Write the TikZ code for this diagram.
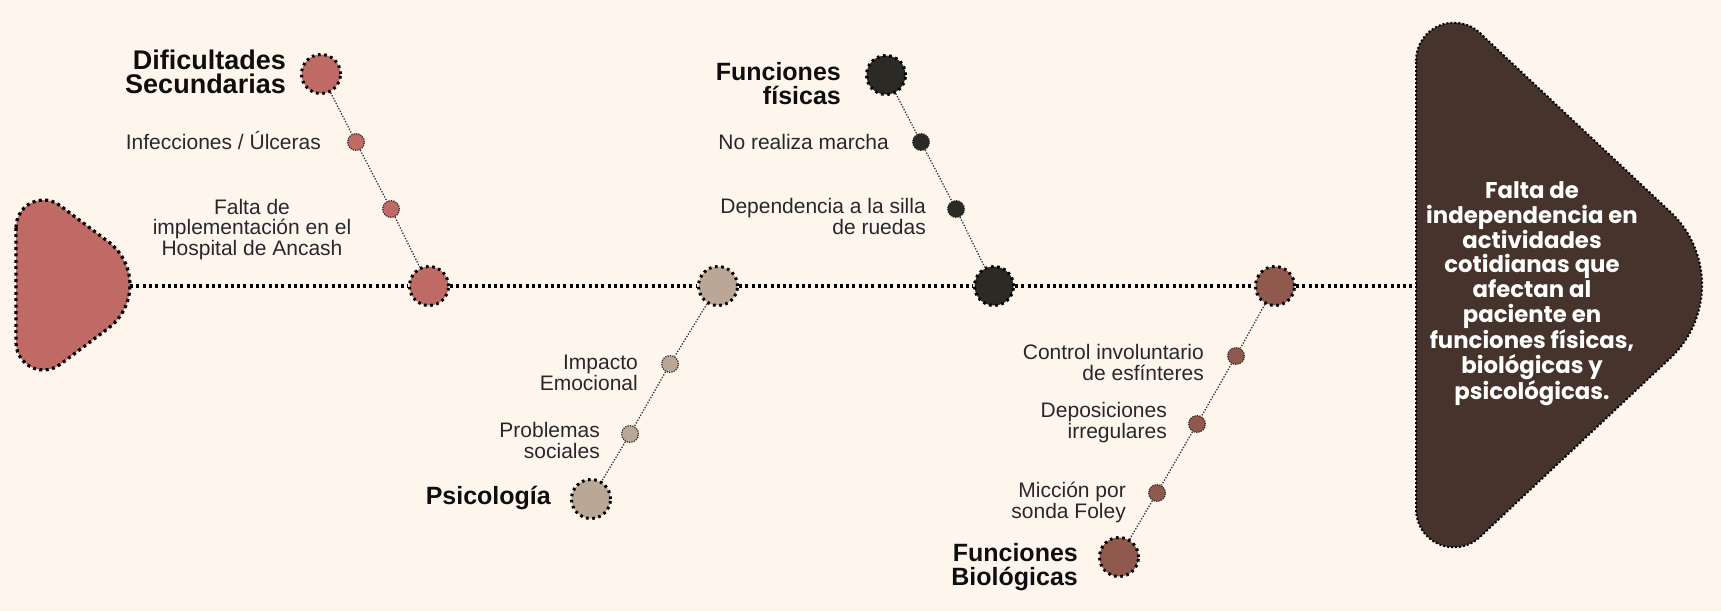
\documentclass[tikz,border=0pt]{standalone}
\usepackage{fontspec}
\setmainfont{Liberation Sans}
\newfontfamily\popfont{Poppins}
\definecolor{bg}{RGB}{254,246,237}
\definecolor{cred}{RGB}{192,106,102}
\definecolor{ctan}{RGB}{187,167,149}
\definecolor{cblk}{RGB}{44,42,37}
\definecolor{cbrn}{RGB}{143,89,77}
\definecolor{cdark}{RGB}{70,51,43}
\definecolor{txt}{RGB}{40,40,44}
\definecolor{hdr}{RGB}{14,14,14}
\begin{document}
\begin{tikzpicture}[x=1pt,y=-1pt,
  mainc/.style={circle, minimum size=39pt, inner sep=0pt, draw=black, line width=3pt, dash pattern=on 2.6pt off 3.6pt},
  subc/.style={circle, minimum size=16.8pt, inner sep=0pt, draw=black!85, line width=1.2pt, dash pattern=on 1.2pt off 1.2pt},
  spine/.style={line width=3.6pt, dash pattern=on 3pt off 3.3pt, draw=black},
  branch/.style={line width=1.3pt, dash pattern=on 1.3pt off 1.6pt, draw=black!80},
  lbl/.style={inner sep=0pt, font=\fontsize{21}{20.5}\selectfont, text=txt, align=right, anchor=base east},
  hd/.style={inner sep=0pt, font=\fontsize{25}{23.5}\selectfont\bfseries, text=hdr, align=right, anchor=base east},
  bigshape/.style={line width=3.2pt, dash pattern=on 3pt off 3.4pt, draw=black}
]
\useasboundingbox[fill=bg] (0,0) rectangle (1721,611);

% left shape (tail)
\draw[bigshape, fill=cred] (16,227.5) arc[start angle=180, end angle=306.87, radius=27.5]
  -- (108.4,241.8) arc[start angle=306.87, end angle=413.13, radius=54]
  -- (60,364.5) arc[start angle=53.13, end angle=180, radius=27.5] -- cycle;
\coordinate (tail) at (130,286);

% right shape (head)
\draw[line width=2pt, dash pattern=on 2pt off 2pt, draw=black, fill=cdark]
  (1416,60.6) arc[start angle=180, end angle=313.2, radius=37.9]
  -- (1670.5,212.1) arc[start angle=313.2, end angle=406.8, radius=100]
  -- (1479.9,537.0) arc[start angle=46.8, end angle=180, radius=37.9] -- cycle;
\coordinate (head) at (1417,286);
\node[inner sep=0pt, text=white, align=center, anchor=base,
  font=\popfont\bfseries\fontsize{22.8}{24.75}\selectfont] (effect) at (1532,399.5)
  {Falta de\\independencia en\\actividades\\cotidianas que\\afectan al\\paciente en\\funciones físicas,\\biológicas y\\psicológicas.};

% main circles on spine
\node[mainc, fill=cred] (c1) at (429,286) {};
\node[mainc, fill=ctan] (c2) at (718,286) {};
\node[mainc, fill=cblk] (c3) at (994,286) {};
\node[mainc, fill=cbrn] (c4) at (1275,286) {};

% branch heads
\node[mainc, fill=cred] (d0) at (321,74) {};
\node[mainc, fill=cblk] (f0) at (886,75) {};
\node[mainc, fill=ctan] (p0) at (591,499) {};
\node[mainc, fill=cbrn] (b0) at (1119,557) {};

% sub circles
\node[subc, fill=cred] (d1) at (356,142) {};
\node[subc, fill=cred] (d2) at (391,209) {};
\node[subc, fill=cblk] (f1) at (921,142) {};
\node[subc, fill=cblk] (f2) at (956,209) {};
\node[subc, fill=ctan] (p1) at (670,364) {};
\node[subc, fill=ctan] (p2) at (630,434) {};
\node[subc, fill=cbrn] (b1) at (1236,356) {};
\node[subc, fill=cbrn] (b2) at (1197,424) {};
\node[subc, fill=cbrn] (b3) at (1157,493) {};

% spine
\draw[spine] (tail) -- (c1);
\draw[spine] (c1) -- (c2);
\draw[spine] (c2) -- (c3);
\draw[spine] (c3) -- (c4);
\draw[spine] (c4) -- (head);

% branches
\draw[branch] (d0) -- (d1); \draw[branch] (d1) -- (d2); \draw[branch] (d2) -- (c1);
\draw[branch] (f0) -- (f1); \draw[branch] (f1) -- (f2); \draw[branch] (f2) -- (c3);
\draw[branch] (c2) -- (p1); \draw[branch] (p1) -- (p2); \draw[branch] (p2) -- (p0);
\draw[branch] (c4) -- (b1); \draw[branch] (b1) -- (b2); \draw[branch] (b2) -- (b3); \draw[branch] (b3) -- (b0);

% headings (anchor = baseline of last line)
\node[hd, font=\fontsize{27}{24}\selectfont\bfseries] (dt) at (286,93) {Dificultades\\Secundarias};
\node[hd] (ft) at (841,104) {Funciones\\físicas};
\node[hd] (pt) at (551,504) {Psicología};
\node[hd] (bt) at (1078,585) {Funciones\\Biológicas};

% labels (anchor = baseline of last line)
\node[lbl] (dl1) at (321,149) {Infecciones / Úlceras};
\node[lbl, align=center, anchor=base] (dl2) at (252,255) {Falta de\\implementación en el\\Hospital de Ancash};
\node[lbl] (fl1) at (889,149) {No realiza marcha};
\node[lbl] (fl2) at (926,234) {Dependencia a la silla\\de ruedas};
\node[lbl] (pl1) at (638,390) {Impacto\\Emocional};
\node[lbl] (pl2) at (600,458) {Problemas\\sociales};
\node[lbl] (bl1) at (1204,380) {Control involuntario\\de esfínteres};
\node[lbl] (bl2) at (1167,438) {Deposiciones\\irregulares};
\node[lbl] (bl3) at (1126,518) {Micción por\\sonda Foley};
\end{tikzpicture}
\end{document}
